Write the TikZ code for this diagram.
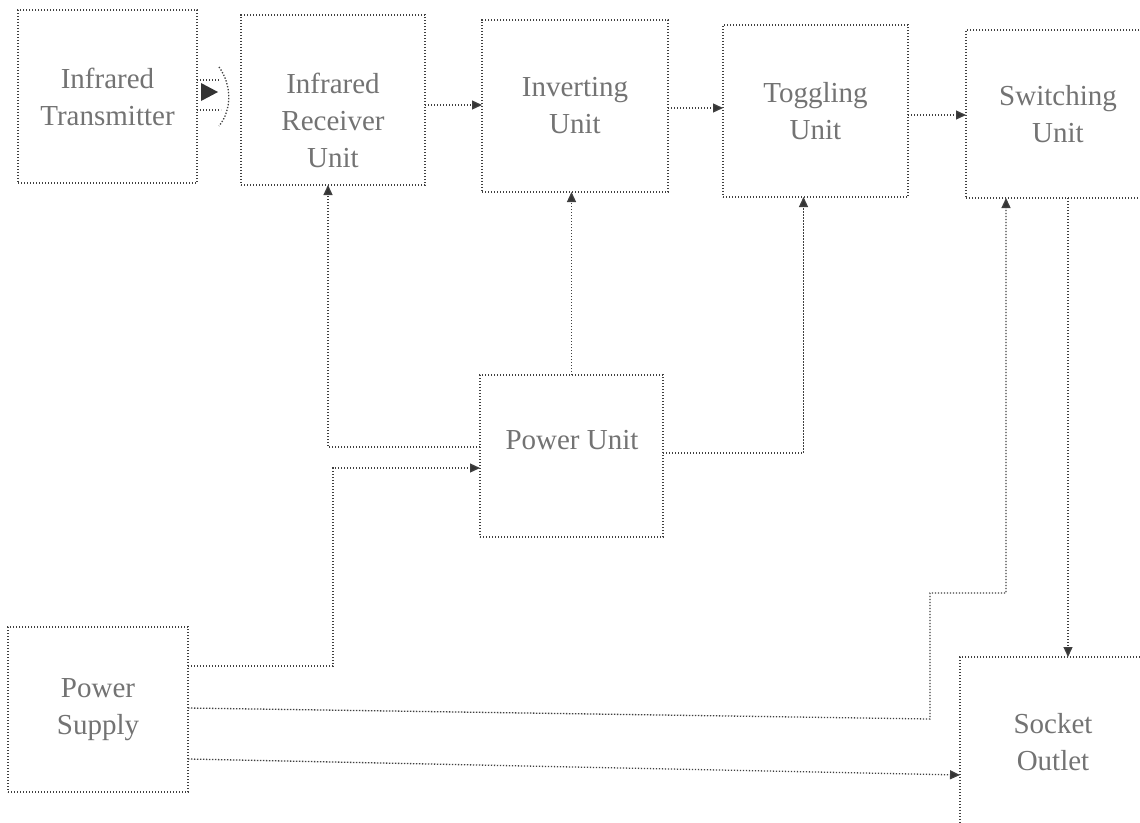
\documentclass[tikz,border=0pt]{standalone}
\usepackage{fontspec}
\setmainfont{Liberation Serif}
\usetikzlibrary{arrows.meta}
\begin{document}
\begin{tikzpicture}[x=1pt,y=-1pt,
  every node/.style={inner sep=0pt,outer sep=0pt},
  box/.style={draw=black!75,line width=1.3pt,dash pattern=on 1.3pt off 1.7pt,
    align=center,text=black!55,font=\fontsize{29}{37}\selectfont},
  txt/.style={align=center,text=black!55,font=\fontsize{29}{37}\selectfont},
  conn/.style={draw=black!75,line width=1.3pt,dash pattern=on 1.3pt off 1.7pt},
  arr/.style={conn,-{Triangle[length=10pt,width=9pt,fill=black!80]}}]
\clip (0,0) rectangle (1140,822);
\fill[white] (0,0) rectangle (1140,822);
% boxes
\node[box,minimum width=179pt,minimum height=173pt] (tx) at (107.5,96.5) {Infrared\\Transmitter};
\node[box,minimum width=184pt,minimum height=170pt] (rx) at (333,100) {};
\node[txt] (rxt) at (333,120) {Infrared\\Receiver\\Unit};
\node[box,minimum width=186pt,minimum height=172pt] (inv) at (575,106) {Inverting\\Unit};
\node[box,minimum width=185pt,minimum height=172pt] (tog) at (815.5,111) {Toggling\\Unit};
\node[box,minimum width=184pt,minimum height=168pt] (sw) at (1058,114) {Switching\\Unit};
\node[box,minimum width=183pt,minimum height=162pt] (pu) at (571.5,456) {};
\node[txt] (put) at (572,440) {Power Unit};
\node[box,minimum width=180pt,minimum height=165pt] (ps) at (98,709.5) {Power\\Supply};
\node[box,minimum width=186pt,minimum height=171pt] (so) at (1053,742.5) {Socket\\Outlet};
% infrared link symbol
\draw[conn] (tx.east |- 0,80) -- (220,80);
\draw[conn] (tx.east |- 0,110) -- (221,110);
\draw[conn] (219,67) .. controls (232,85) and (232,110) .. (219,126);
\fill[black!80] (201,83) -- (218,92) -- (201,101) -- cycle;
% signal chain
\draw[arr] (rx.east |- 0,105) -- (inv.west |- 0,105);
\draw[arr] (inv.east |- 0,108) -- (tog.west |- 0,108);
\draw[arr] (tog.east |- 0,115) -- (sw.west |- 0,115);
% power unit feeds
\draw[arr] (pu.west |- 0,447) -| ([xshift=-5pt]rx.south);
\draw[arr] (pu.north) -- (pu.north |- inv.south);
\draw[arr] (pu.east |- 0,453) -| ([xshift=-12pt]tog.south);
% power supply feeds
\draw[arr] (ps.east |- 0,666) -| (333,468) -- (pu.west |- 0,468);
\draw[arr] (ps.east |- 0,708) -- (930,719) -- (930,593) -- (1006,593) -- (sw.south -| 1006,0);
\draw[arr] (ps.east |- 0,759) -- (so.west |- 0,775);
\draw[arr] (sw.south -| 1068,0) -- (so.north -| 1068,0);
\end{tikzpicture}
\end{document}
